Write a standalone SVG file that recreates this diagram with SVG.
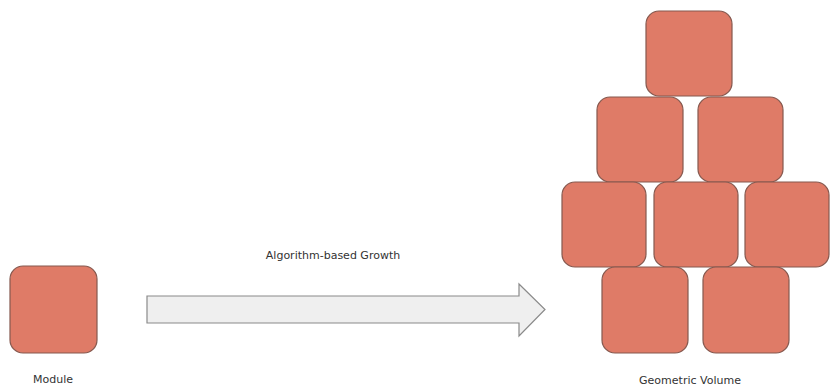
<svg xmlns="http://www.w3.org/2000/svg" width="831" height="389" viewBox="0 0 831 389">
<style>
.blk{fill:#df7b67;stroke:#85594f;stroke-width:1.2}
.lbl{font-family:"DejaVu Sans","Liberation Sans",sans-serif;font-size:11px;fill:#333;text-anchor:middle}
.arr{fill:#efefef;stroke:#8a8a8a;stroke-width:1.2}
</style>
<rect width="831" height="389" fill="#ffffff"/>
<g id="module">
<rect class="blk" x="10" y="266" width="87" height="87" rx="13"/>
<text class="lbl" x="53" y="383">Module</text>
</g>
<g id="connectors">
<path class="arr" d="M147,296 L519,296 L519,284 L545,309.5 L519,336 L519,323 L147,323 Z"/>
<text class="lbl" x="333" y="259">Algorithm-based Growth</text>
</g>
<g id="geometric-volume">
<rect class="blk" x="646" y="11" width="86" height="85" rx="13"/>
<rect class="blk" x="597" y="97" width="86" height="85" rx="13"/>
<rect class="blk" x="698" y="97" width="85" height="85" rx="13"/>
<rect class="blk" x="562" y="182" width="84" height="85" rx="13"/>
<rect class="blk" x="654" y="182" width="84" height="85" rx="13"/>
<rect class="blk" x="745" y="182" width="84" height="85" rx="13"/>
<rect class="blk" x="602" y="267" width="86" height="86" rx="13"/>
<rect class="blk" x="703" y="267" width="86" height="86" rx="13"/>
<text class="lbl" x="690" y="384">Geometric Volume</text>
</g>
</svg>
